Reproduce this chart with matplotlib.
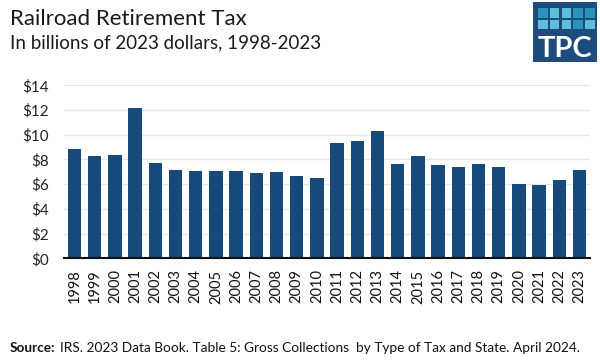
import matplotlib
matplotlib.use("Agg")
import matplotlib.pyplot as plt
from matplotlib.patches import Rectangle

years = [str(y) for y in range(1998, 2024)]
values = [8.84, 8.28, 8.36, 12.16, 7.71, 7.14, 7.06, 7.06, 7.06, 6.90, 6.98, 6.66,
          6.50, 9.33, 9.49, 10.30, 7.63, 8.28, 7.55, 7.39, 7.63, 7.39, 6.01, 5.93,
          6.34, 7.14]
yticks = [0, 2, 4, 6, 8, 10, 12, 14]
ytick_labels = ["$0", "$2", "$4", "$6", "$8", "$10", "$12", "$14"]

plt.rcParams['font.family'] = ['Lato', 'DejaVu Sans']

W, H = 600, 361
fig = plt.figure(figsize=(W / 100, H / 100), dpi=100)

ymax = 14.5
ax_left, ax_right = 64, 590
ax_bottom = 258.3
ax_top = ax_bottom - ymax * 12.36
ax = fig.add_axes([ax_left / W, (H - ax_bottom) / H, (ax_right - ax_left) / W, (ax_bottom - ax_top) / H])

bar_color = "#17497a"
ax.bar(range(len(years)), values, width=0.67, color=bar_color, zorder=3)
ax.set_xlim(-0.52, len(years) - 0.48)
ax.set_ylim(0, ymax)
ax.set_yticks(yticks)
ax.set_yticklabels(ytick_labels, fontsize=11, color="#222222")
ax.set_xticks(range(len(years)))
ax.set_xticklabels(years, rotation=90, fontsize=10.5, color="#111111")
ax.tick_params(axis='y', length=0, pad=11)
ax.tick_params(axis='x', length=0, pad=8)
ax.grid(axis='y', color="#e6e6e6", linewidth=1, zorder=0)
for s in ['top', 'right', 'left']:
    ax.spines[s].set_visible(False)
ax.spines['bottom'].set_color("#111111")
ax.spines['bottom'].set_linewidth(1.5)
ax.spines['bottom'].set_zorder(4)

# Titles
fig.text(10 / W, 1 - 25 / H, "Railroad Retirement Tax", fontsize=16, color="#1a1a1a", va='baseline', ha='left')
fig.text(10 / W, 1 - 48 / H, "In billions of 2023 dollars, 1998-2023", fontsize=13.5, color="#1a1a1a", va='baseline', ha='left')

# Source
src_bold = fig.text(10 / W, 1 - 352 / H, "Source:", fontsize=9.8, fontweight='bold', color="#111111",
                    va='baseline', ha='left')
fig.canvas.draw()
bb = src_bold.get_window_extent(renderer=fig.canvas.get_renderer())
fig.text((bb.x1 + 5) / W, 1 - 352 / H,
         "IRS. 2023 Data Book. Table 5: Gross Collections  by Type of Tax and State. April 2024.",
         fontsize=9.8, color="#111111", va='baseline', ha='left')

# Logo
lx0, ly0, lw, lh = 533, 2, 64, 60
fig.patches.append(Rectangle((lx0 / W, 1 - (ly0 + lh) / H), lw / W, lh / H, transform=fig.transFigure,
                             facecolor="#1d4b7b", edgecolor='none'))
sq = 9.5
gap = 2.3
light = "#5fbfd8"
dark = "#2a93bc"
pattern = [[dark, light, light, dark, dark], [light, light, light, dark, light]]
for r in range(2):
    for c in range(5):
        x = lx0 + 5 + c * (sq + gap)
        y = ly0 + 6 + r * (sq + gap)
        fig.patches.append(Rectangle((x / W, 1 - (y + sq) / H), sq / W, sq / H, transform=fig.transFigure,
                                     facecolor=pattern[r][c], edgecolor='none'))
fig.text((lx0 + lw / 2) / W, 1 - 57 / H, "TPC", fontsize=21, fontweight='bold', color="white",
         ha='center', va='baseline')

fig.savefig("out.png", dpi=100)
